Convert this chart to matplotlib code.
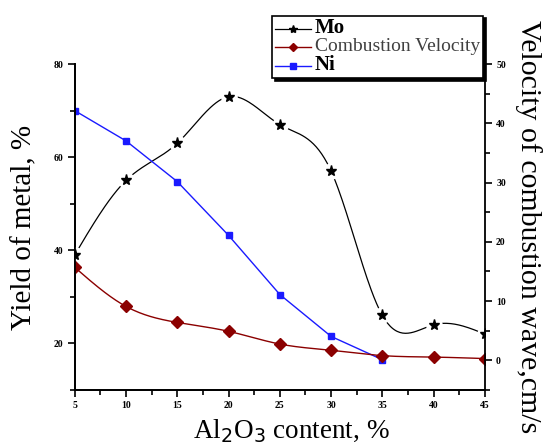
import numpy as np
import matplotlib
matplotlib.use('Agg')
import matplotlib.pyplot as plt
from matplotlib.lines import Line2D
from matplotlib.ticker import MultipleLocator

# Al2O3 content, %
x = [5, 10, 15, 20, 25, 30, 35, 40, 45]
mo = [39, 55, 63, 73, 67, 57, 26, 24, 22]
velocity = [15.7, 9.1, 6.4, 4.9, 2.75, 1.7, 0.8, 0.55, 0.3]
x_ni = [5, 10, 15, 20, 25, 30, 35]
ni = [70, 63.5, 54.75, 43.2, 30.5, 21.5, 16.5]


def spline(xs, ys, n=300):
    # natural cubic spline, only to draw the connecting curve smoothly
    xs = np.asarray(xs, float)
    ys = np.asarray(ys, float)
    k = len(xs)
    h = np.diff(xs)
    A = np.zeros((k, k))
    b = np.zeros(k)
    A[0, 0] = A[-1, -1] = 1
    for i in range(1, k - 1):
        A[i, i - 1] = h[i - 1]
        A[i, i] = 2 * (h[i - 1] + h[i])
        A[i, i + 1] = h[i]
        b[i] = 3 * ((ys[i + 1] - ys[i]) / h[i] - (ys[i] - ys[i - 1]) / h[i - 1])
    c = np.linalg.solve(A, b)
    xx = np.linspace(xs[0], xs[-1], n)
    idx = np.clip(np.searchsorted(xs, xx) - 1, 0, k - 2)
    t = xx - xs[idx]
    bb = (ys[idx + 1] - ys[idx]) / h[idx] - h[idx] * (2 * c[idx] + c[idx + 1]) / 3
    d = (c[idx + 1] - c[idx]) / (3 * h[idx])
    yy = ys[idx] + bb * t + c[idx] * t ** 2 + d * t ** 3
    return xx, yy


plt.rcParams['font.family'] = 'Liberation Serif'

fig = plt.figure(figsize=(5.47, 4.48), dpi=100)
ax = fig.add_axes([0.1366, 0.1295, 0.75, 0.7275])
ax2 = ax.twinx()

red = '#8b0000'
blue = '#1a1aff'

# Mo: thin black curve with gaps around the stars
sx, sy = spline(x, mo)
ax.plot(sx, sy, color='black', lw=0.9, zorder=2)
ax.plot(x, mo, ls='none', marker='o', ms=12, mfc='white', mec='none', zorder=3)
ax.plot(x, mo, ls='none', marker='*', ms=8, color='black', zorder=4)

ax.plot(x_ni, ni, color=blue, lw=1.0, marker='s', ms=5, zorder=2)

sx, sy = spline(x, velocity)
ax2.plot(sx, sy, color=red, lw=1.0)
ax2.plot(x, velocity, ls='none', marker='D', ms=6, color=red)

ax.set_xlim(5, 45)
ax.set_ylim(10, 80)
ax2.set_ylim(-5, 50)

ax.xaxis.set_major_locator(MultipleLocator(5))
ax.xaxis.set_minor_locator(MultipleLocator(2.5))
ax.yaxis.set_major_locator(MultipleLocator(20))
ax.yaxis.set_minor_locator(MultipleLocator(10))
ax2.yaxis.set_major_locator(MultipleLocator(10))
ax2.yaxis.set_minor_locator(MultipleLocator(5))

for a in (ax, ax2):
    a.spines['top'].set_visible(False)
    for s in a.spines.values():
        s.set_linewidth(1.3)
    a.tick_params(which='major', direction='out', length=5, width=1.2,
                  labelsize=7, pad=3)
    a.tick_params(which='minor', direction='out', length=3.5, width=1.2)
    for lab in a.get_xticklabels() + a.get_yticklabels():
        lab.set_fontweight('bold')
ax.spines['right'].set_visible(False)

ax.set_xlabel('Al$_2$O$_3$ content, %', fontsize=19.5, labelpad=5)
ax.xaxis.label.set_x(0.527)
ax.set_ylabel('Yield of metal, %', fontsize=21, labelpad=12)
ax2.set_ylabel('Velocity of combustion wave,cm/s', fontsize=21.5,
               rotation=-90, labelpad=26)

handles = [
    Line2D([], [], color='black', lw=0.9, marker='*', ms=6),
    Line2D([], [], color=red, lw=1.0, marker='D', ms=4),
    Line2D([], [], color=blue, lw=1.0, marker='s', ms=4),
]
leg = fig.legend(handles, ['Mo', 'Combustion Velocity', 'Ni'],
                 loc='upper left', bbox_to_anchor=(0.497, 0.965),
                 fancybox=False, edgecolor='black', framealpha=1,
                 shadow={'color': 'black', 'alpha': 1},
                 handlelength=2.6, handletextpad=0.3, labelspacing=0.0,
                 borderpad=0.2, borderaxespad=0)
leg.get_frame().set_linewidth(1.2)
sizes = [15, 14, 15]
for t, s in zip(leg.get_texts(), sizes):
    t.set_fontsize(s)
    if s > 14:
        t.set_fontweight('bold')
    else:
        t.set_color('#404040')

plt.savefig('out.png', dpi=100)
